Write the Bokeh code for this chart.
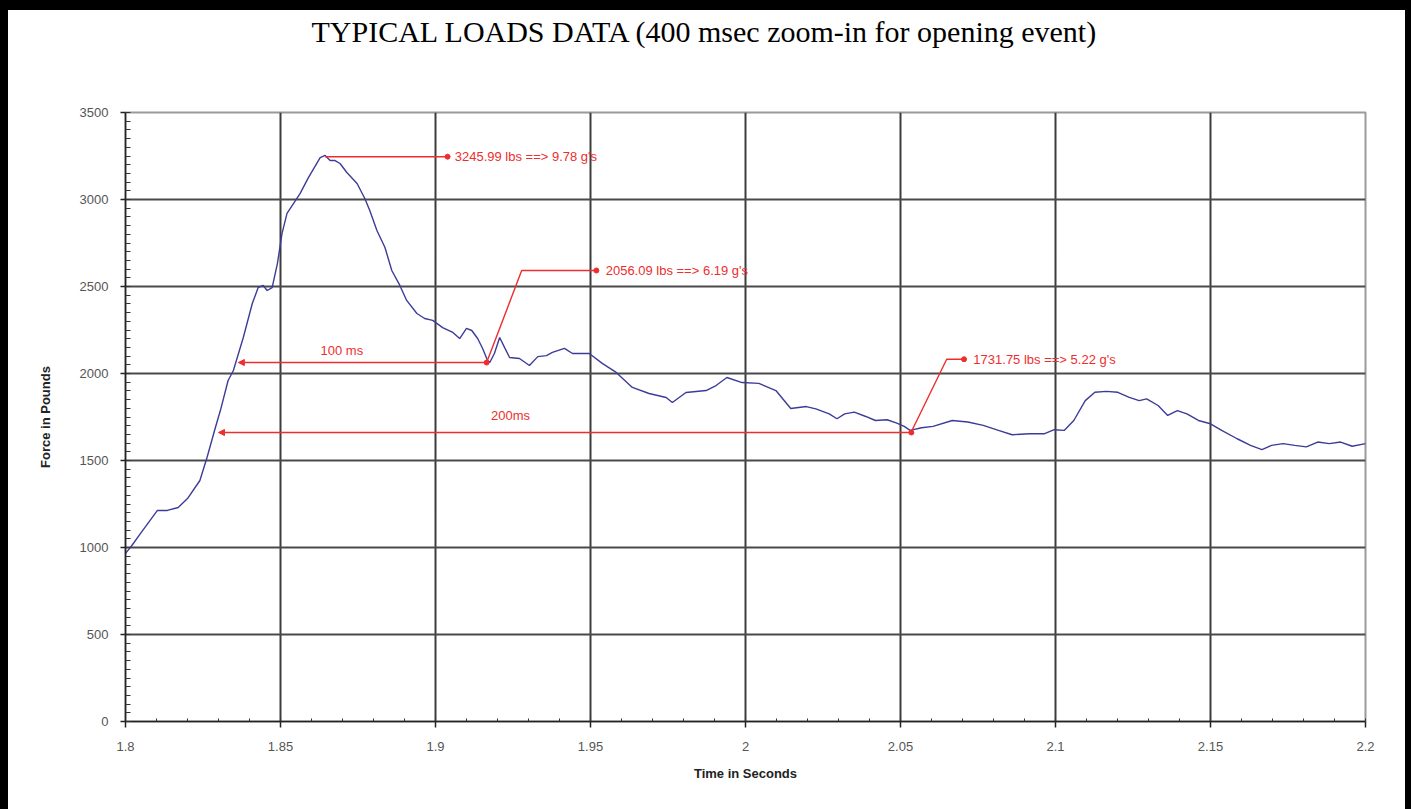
from bokeh.plotting import figure
from bokeh.models import FixedTicker, Arrow, NormalHead, Title
from bokeh.core.properties import value
from bokeh.embed import file_html
from bokeh.resources import INLINE

# ---- data ----
time_s = [
    1.8000, 1.8020, 1.8048, 1.8103, 1.8135, 1.8170, 1.8200, 1.8240, 1.8257, 1.8263,
    1.8290, 1.8306, 1.8331, 1.8348, 1.8380, 1.8409, 1.8428, 1.8444, 1.8457, 1.8473,
    1.8490, 1.8505, 1.8521, 1.8563, 1.8590, 1.8628, 1.8644, 1.8660, 1.8676, 1.8692,
    1.8714, 1.8747, 1.8772, 1.8788, 1.8811, 1.8837, 1.8859, 1.8885, 1.8907, 1.8940,
    1.8965, 1.8991, 1.9023, 1.9056, 1.9078, 1.9100, 1.9117, 1.9136, 1.9152, 1.9168,
    1.9175, 1.9190, 1.9207, 1.9223, 1.9239, 1.9271, 1.9303, 1.9330, 1.9358, 1.9377,
    1.9416, 1.9442, 1.9496, 1.9539, 1.9583, 1.9635, 1.9689, 1.9744, 1.9764, 1.9808,
    1.9873, 1.9905, 1.9940, 1.9989, 2.0043, 2.0098, 2.0146, 2.0196, 2.0227, 2.0270,
    2.0295, 2.0320, 2.0351, 2.0388, 2.0419, 2.0457, 2.0488, 2.0512, 2.0531, 2.0568,
    2.0605, 2.0667, 2.0717, 2.0767, 2.0816, 2.0860, 2.0916, 2.0965, 2.0996, 2.1028,
    2.1059, 2.1096, 2.1127, 2.1164, 2.1201, 2.1238, 2.1270, 2.1294, 2.1331, 2.1362,
    2.1393, 2.1424, 2.1461, 2.1500, 2.1536, 2.1586, 2.1629, 2.1666, 2.1697, 2.1734,
    2.1772, 2.1809, 2.1846, 2.1883, 2.1920, 2.1957, 2.2000,
]
force_lbs = [
    966, 1010, 1080, 1213, 1213, 1230, 1281, 1385, 1483, 1517,
    1690, 1787, 1960, 2017, 2207, 2402, 2494, 2506, 2477, 2494,
    2632, 2805, 2920, 3034, 3126, 3241, 3253, 3224, 3224, 3207,
    3155, 3092, 3006, 2937, 2822, 2724, 2592, 2506, 2420, 2345,
    2316, 2305, 2264, 2236, 2201, 2259, 2247, 2201, 2144, 2075,
    2063, 2115, 2207, 2149, 2092, 2086, 2046, 2097, 2103, 2121,
    2144, 2115, 2115, 2057, 2006, 1920, 1885, 1862, 1833, 1891,
    1902, 1931, 1977, 1948, 1943, 1902, 1799, 1810, 1797, 1768,
    1740, 1768, 1778, 1753, 1730, 1734, 1715, 1696, 1673, 1688,
    1696, 1730, 1721, 1702, 1673, 1648, 1654, 1654, 1677, 1673,
    1730, 1844, 1892, 1897, 1892, 1863, 1844, 1854, 1816, 1759,
    1787, 1768, 1730, 1711, 1673, 1625, 1587, 1563, 1587, 1597,
    1587, 1578, 1606, 1597, 1606, 1582, 1597,
]

x_ticks = [1.8, 1.85, 1.9, 1.95, 2.0, 2.05, 2.1, 2.15, 2.2]
x_tick_labels = ["1.8", "1.85", "1.9", "1.95", "2", "2.05", "2.1", "2.15", "2.2"]
y_ticks = [0, 500, 1000, 1500, 2000, 2500, 3000, 3500]
y_tick_labels = ["0", "500", "1000", "1500", "2000", "2500", "3000", "3500"]

# annotation call-outs: leader polyline points, label position, text
peak_leader_t = [1.8644, 1.9039]
peak_leader_f = [3246, 3246]
peak_text = "3245.99 lbs ==> 9.78 g's"
mid_leader_t = [1.9165, 1.9278, 1.9519]
mid_leader_f = [2063, 2592, 2592]
mid_text = "2056.09 lbs ==> 6.19 g's"
late_leader_t = [2.0535, 2.0649, 2.0705]
late_leader_f = [1665, 2082, 2082]
late_text = "1731.75 lbs ==> 5.22 g's"
span100_t = [1.8364, 1.9165]
span100_f = 2063
span100_label = (1.8698, 2132)
span100_text = "100 ms"
span200_t = [1.8300, 2.0535]
span200_f = 1661
span200_label = (1.9242, 1759)
span200_text = "200ms"

title_text = "TYPICAL LOADS DATA (400 msec zoom-in for opening event)"
x_title = "Time in Seconds"
y_title = "Force in Pounds"

RED = "#ee2e2e"
LINE = "#3c3c98"

p = figure(width=1411, height=809, x_range=(1.8, 2.2), y_range=(0, 3500),
           output_backend="svg", toolbar_location=None,
           min_border_left=125, min_border_right=46,
           min_border_top=112, min_border_bottom=88)
p.styles = {"box-shadow": "inset 8px 10px 0 0 #000000, inset -6px 0 0 0 #000000",
            "background-color": "white"}
p.background_fill_color = "white"
p.border_fill_alpha = 0
p.outline_line_color = "#9a9a9a"
p.outline_line_width = 2

# title (a thin spacer title keeps it near the top of the page)
p.add_layout(Title(text=" ", text_font_size="1px", standoff=62), "above")
p.title.text = title_text
p.title.align = "left"
p.title.offset = 186
p.title.standoff = 0
p.title.text_font = "Liberation Serif"
p.title.text_font_style = "normal"
p.title.text_font_size = "30px"
p.title.text_color = "black"

# axes
minor_x = [round(1.8 + i * 0.01, 2) for i in range(41)]
minor_y = [i * 50 for i in range(71)]
p.xaxis.ticker = FixedTicker(ticks=x_ticks, minor_ticks=minor_x)
p.yaxis.ticker = FixedTicker(ticks=y_ticks, minor_ticks=minor_y)
p.xaxis.major_label_overrides = dict(zip(x_ticks, x_tick_labels))
p.yaxis.major_label_overrides = dict(zip(y_ticks, y_tick_labels))

for ax in (p.xaxis, p.yaxis):
    ax.axis_line_color = "#222222"
    ax.axis_line_width = 1.5
    ax.major_tick_line_color = "#222222"
    ax.major_tick_line_width = 1.5
    ax.minor_tick_line_color = "#333333"
    ax.minor_tick_line_width = 1
    ax.major_label_text_font = "Liberation Sans"
    ax.major_label_text_font_size = "13px"
    ax.major_label_text_color = "#555555"
    ax.axis_label_text_font = "Liberation Sans"
    ax.axis_label_text_font_style = "bold"
    ax.axis_label_text_font_size = "13px"
    ax.axis_label_text_color = "#222222"

p.xaxis.axis_label = x_title
p.yaxis.axis_label = y_title
p.xaxis.major_tick_out = 6
p.xaxis.major_tick_in = 0
p.xaxis.minor_tick_in = 3
p.xaxis.minor_tick_out = 0
p.xaxis.major_label_standoff = 14
p.xaxis.axis_label_standoff = 12
p.yaxis.major_tick_out = 5
p.yaxis.major_tick_in = 0
p.yaxis.minor_tick_in = 5
p.yaxis.minor_tick_out = 0
p.yaxis.major_label_standoff = 12
p.yaxis.axis_label_standoff = 24

p.xgrid.ticker = FixedTicker(ticks=x_ticks)
p.ygrid.ticker = FixedTicker(ticks=y_ticks)
p.xgrid.grid_line_color = "#3c3c3c"
p.ygrid.grid_line_color = "#4a4a4a"
p.xgrid.grid_line_width = 2
p.ygrid.grid_line_width = 2

# data line
p.line(time_s, force_lbs, line_color=LINE, line_width=1.4)

# annotation leaders
for xs, ys in ((peak_leader_t, peak_leader_f), (mid_leader_t, mid_leader_f),
               (late_leader_t, late_leader_f)):
    p.line(xs, ys, line_color=RED, line_width=1.4)
    p.scatter([xs[-1]], [ys[-1]], marker="circle", size=5, fill_color=RED, line_color=RED)

# time spans
def head():
    return NormalHead(size=6, fill_color=RED, line_color=RED)

for ts, fv in ((span100_t, span100_f), (span200_t, span200_f)):
    p.add_layout(Arrow(start=head(), end=None, x_start=ts[0], y_start=fv,
                       x_end=ts[1], y_end=fv, line_color=RED, line_width=1.4))
    p.scatter([ts[1]], [fv], marker="circle", size=5, fill_color=RED, line_color=RED)

ann_font = value("Liberation Sans")
for tx, fy, txt in ((peak_leader_t[-1] + 0.0023, peak_leader_f[-1], peak_text),
                    (mid_leader_t[-1] + 0.0030, mid_leader_f[-1], mid_text),
                    (late_leader_t[-1] + 0.0030, late_leader_f[-1], late_text)):
    p.text(x=[tx], y=[fy], text=[txt], text_color=RED, text_font=ann_font,
           text_font_size="13px", text_baseline="middle", text_align="left")

for (lx, ly), txt in ((span100_label, span100_text), (span200_label, span200_text)):
    p.text(x=[lx], y=[ly], text=[txt], text_color=RED, text_font=ann_font,
           text_font_size="13px", text_baseline="middle", text_align="center")

open("out.html", "w").write(file_html(p, INLINE))
